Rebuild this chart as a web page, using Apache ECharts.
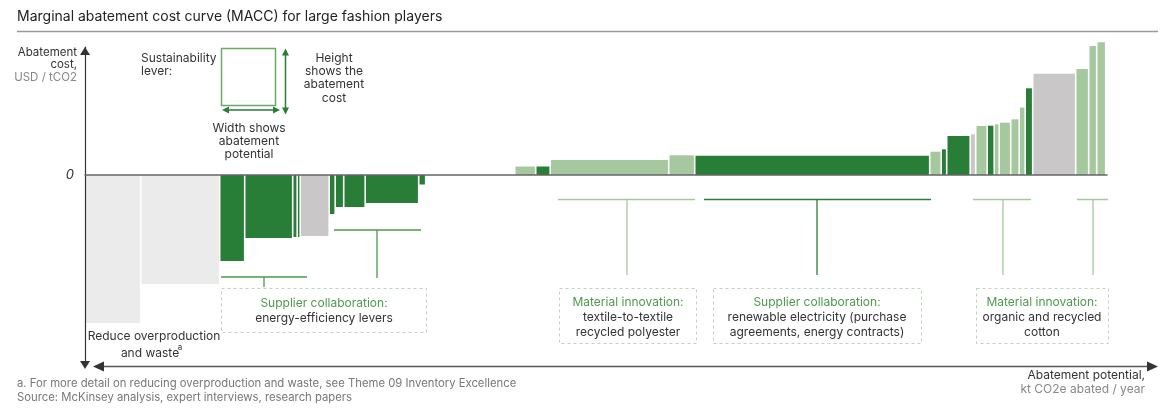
<!DOCTYPE html>
<html>
<head>
<meta charset="utf-8">
<title>Marginal abatement cost curve (MACC)</title>
<script src="https://cdn.jsdelivr.net/npm/echarts@6/dist/echarts.min.js"></script>
<style>
  html, body { margin: 0; padding: 0; background: #fff; }
  #chart { width: 1170px; height: 411px; }
</style>
</head>
<body>
<div id="chart"></div>
<script>
// levers left to right: width = abatement potential, height = abatement cost
const leverWidths = [
  56.5, 79, 25, 48, 4.5, 3, 29, 6, 8.5, 21.5, 53.5, 7,
  89,
  21, 14.5, 118.5, 26, 235, 11.5, 5.5, 23.5, 5.5, 11.5, 7, 5, 11.5, 8.5, 6, 7.5, 43, 13, 8, 9,
];
const leverCosts = [
  -148, -109, -86, -63, -62, -62, -61, -39, -32, -32, -28, -9.5,
  0,
  8.5, 8.5, 15, 19.7, 19.3, 23.3, 25.7, 39, 40.7, 49, 49.3, 50.7, 52.3, 55.7, 67.5, 86.7, 101.3, 106, 129, 132.7,
];
const leverTypes = [
  "waste", "waste", "energy", "energy", "energy", "energy", "other", "energy", "energy", "energy", "energy", "energy",
  "none",
  "material", "energy", "material", "material", "energy", "material", "energy", "energy", "other", "material",
  "energy", "material", "material", "material", "material", "energy", "other", "material", "material", "material",
];
const costTicks = [0];

const COLORS = {
  waste: "#ebebeb",
  energy: "#287d37",
  material: "#a6c89e",
  other: "#c9c7c7",
  none: "transparent",
};
const FONT = "Inter, 'Noto Sans', sans-serif";
const GAP = 1.6;

let cursor = 0;
const leverData = leverWidths.map((w, i) => {
  const start = cursor;
  cursor += w;
  return [start, cursor, leverCosts[i]];
});

function line(x1, y1, x2, y2, stroke, lineWidth = 1.2, dash) {
  return {
    type: "line",
    shape: { x1, y1, x2, y2 },
    style: { stroke, lineWidth, lineDash: dash },
    silent: true,
  };
}

function tri(points, fill) {
  return { type: "polygon", shape: { points }, style: { fill }, silent: true };
}

function label(text, x, y, opts = {}) {
  return {
    type: "text",
    x,
    y,
    silent: true,
    style: {
      text,
      fill: opts.color || "#333",
      font: `${opts.italic ? "italic " : ""}${opts.size || 12}px ${FONT}`,
      align: opts.align || "center",
      verticalAlign: "middle",
      textAlign: opts.align || "center",
      textVerticalAlign: "middle",
    },
  };
}

function box(x, y, width, height) {
  return {
    type: "rect",
    shape: { x, y, width, height },
    style: { fill: "none", stroke: "#bcd4b7", lineWidth: 1, lineDash: [3, 3] },
    silent: true,
  };
}

const GREEN_TXT = "#4e9a4c";
const GREY_TXT = "#888";

const graphics = [
  // title rule
  line(17, 31.5, 1158, 31.5, "#9a9a9a", 1.5),
  // horizontal potential arrow
  line(100, 366.5, 1150, 366.5, "#555", 1.3),
  tri([[93, 366.5], [104, 361.5], [104, 371.5]], "#333"),
  tri([[1158, 366.5], [1147, 361.5], [1147, 371.5]], "#333"),

  // y-axis title
  label("Abatement", 77, 52.5, { align: "right", size: 11.5 }),
  label("cost,", 77, 65, { align: "right", size: 11.5 }),
  label("USD / tCO2", 77, 77.5, { align: "right", size: 11.5, color: GREY_TXT }),

  // legend key
  {
    type: "rect",
    shape: { x: 221.5, y: 48.5, width: 54, height: 57 },
    style: { fill: "none", stroke: "#6aaa66", lineWidth: 1.5 },
    silent: true,
  },
  line(227, 110, 275, 110, "#287d37", 1.5),
  tri([[222, 110], [229, 106.5], [229, 113.5]], "#287d37"),
  tri([[280, 110], [273, 106.5], [273, 113.5]], "#287d37"),
  line(285.5, 54, 285.5, 109, "#287d37", 1.5),
  tri([[285.5, 48.5], [282, 55.5], [289, 55.5]], "#287d37"),
  tri([[285.5, 114.5], [282, 107.5], [289, 107.5]], "#287d37"),
  label("Sustainability", 141, 58, { align: "left" }),
  label("lever:", 141, 71, { align: "left" }),
  label("Height", 334, 58),
  label("shows the", 334, 71),
  label("abatement", 334, 84.5),
  label("cost", 334, 98),
  label("Width shows", 249, 128.5),
  label("abatement", 249, 141.5),
  label("potential", 249, 154.5),

  // reduce overproduction
  label("Reduce overproduction", 154, 336),
  label("and waste", 150, 353),
  label("a", 180, 348, { size: 8 }),

  // energy-efficiency brackets
  line(221, 277, 307, 277, "#4c9a48", 1.5),
  line(264, 277, 264, 287, "#4c9a48", 1.3),
  line(334, 230, 421, 230, "#4c9a48", 1.5),
  line(377, 230, 377, 278, "#4c9a48", 1.3),
  box(221.5, 288.5, 205, 44),
  label("Supplier collaboration:", 324, 303.5, { color: GREEN_TXT }),
  label("energy-efficiency levers", 324, 318.5),

  // textile-to-textile
  line(558, 199.5, 695, 199.5, "#a6c89e", 1.5),
  line(627, 199.5, 627, 275, "#a6c89e", 1.3),
  box(559.5, 288.5, 137, 55),
  label("Material innovation:", 628, 302, { color: GREEN_TXT }),
  label("textile-to-textile", 628, 317),
  label("recycled polyester", 628, 332),

  // renewable electricity
  line(704, 199.5, 931, 199.5, "#287d37", 1.5),
  line(817, 199.5, 817, 275, "#287d37", 1.3),
  box(713.5, 288.5, 208, 55),
  label("Supplier collaboration:", 817, 302, { color: GREEN_TXT }),
  label("renewable electricity (purchase", 817, 317),
  label("agreements, energy contracts)", 817, 332),

  // organic and recycled cotton
  line(973, 199.5, 1031, 199.5, "#a6c89e", 1.5),
  line(1003, 199.5, 1003, 275, "#a6c89e", 1.3),
  line(1077, 199.5, 1108, 199.5, "#a6c89e", 1.5),
  line(1093, 199.5, 1093, 275, "#a6c89e", 1.3),
  box(976.5, 288.5, 132, 55),
  label("Material innovation:", 1042, 302, { color: GREEN_TXT }),
  label("organic and recycled", 1042, 317),
  label("cotton", 1042, 332),

  // x-axis title
  label("Abatement potential,", 1145, 375.5, { align: "right" }),
  label("kt CO2e abated / year", 1145, 389.5, { align: "right", color: GREY_TXT }),

  // footnotes
  label("a. For more detail on reducing overproduction and waste, see Theme 09 Inventory Excellence", 17, 384, { align: "left", size: 11.3, color: "#777" }),
  label("Source: McKinsey analysis, expert interviews, research papers", 17, 398, { align: "left", size: 11.3, color: "#777" }),
];

const chart = echarts.init(document.getElementById("chart"), null, { renderer: "canvas" });
chart.setOption({
  animation: false,
  title: {
    text: "Marginal abatement cost curve (MACC) for large fashion players",
    left: 17,
    top: 10,
    padding: 0,
    textStyle: { fontFamily: FONT, fontSize: 14, fontWeight: "normal", color: "#222" },
  },
  grid: { left: 85, right: 63, top: 47, bottom: 50 },
  xAxis: {
    type: "value",
    min: 0,
    max: 1022,
    z: 5,
    axisLine: { onZero: true, lineStyle: { color: "#666", width: 1.5 } },
    axisTick: { show: false },
    axisLabel: { show: false },
    splitLine: { show: false },
  },
  yAxis: {
    type: "value",
    min: -186,
    max: 128,
    z: 5,
    axisLine: {
      show: true,
      symbol: ["triangle", "triangle"],
      symbolSize: [10, 8],
      symbolOffset: [-4, -4],
      lineStyle: { color: "#333", width: 1.2 },
    },
    axisTick: { show: false },
    splitLine: { show: false },
    axisLabel: {
      customValues: costTicks,
      formatter: (v) => String(v),
      fontFamily: FONT,
      fontSize: 13,
      fontStyle: "italic",
      color: "#333",
      margin: 11,
      padding: [12, 0, 0, 0],
    },
  },
  series: [{
    type: "custom",
    data: leverData,
    renderItem: (params, api) => {
      const cost = api.value(2);
      if (!cost) return null;
      const p0 = api.coord([api.value(0), 0]);
      const p1 = api.coord([api.value(1), cost]);
      return {
        type: "rect",
        shape: {
          x: p0[0],
          y: Math.min(p0[1], p1[1]),
          width: Math.max(p1[0] - p0[0] - GAP, 0.8),
          height: Math.abs(p1[1] - p0[1]),
        },
        style: { fill: COLORS[leverTypes[params.dataIndex]] },
      };
    },
  }],
  graphic: { elements: graphics },
});
</script>
</body>
</html>
